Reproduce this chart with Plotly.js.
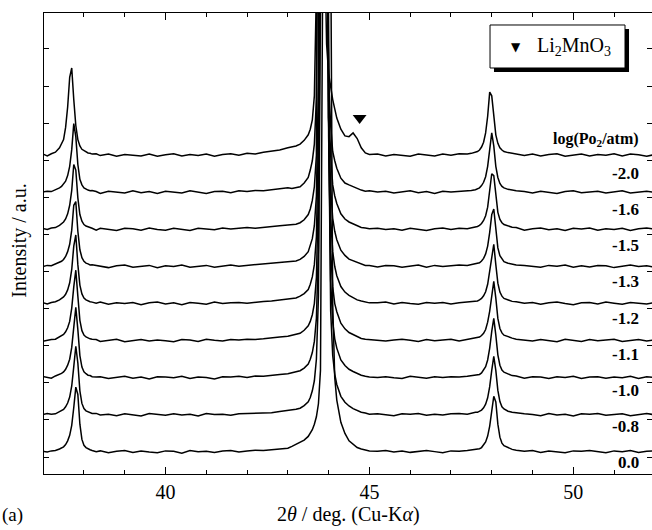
<!DOCTYPE html>
<html>
<head>
<meta charset="utf-8">
<script src="https://cdn.plot.ly/plotly-3.0.1.min.js"></script>
<style>html,body{margin:0;padding:0;background:#fff;}#chart{width:652px;height:530px;}</style>
</head>
<body>
<div id="chart"></div>
<script>
// 2theta grid (deg)
const twoTheta = [
37.0,37.1,37.2,37.3,37.4,
37.45,37.5,37.55,37.6,37.65,37.7,37.75,37.8,37.85,37.9,37.95,38.0,38.05,38.1,38.15,38.2,
38.3,38.4,38.6,38.8,39.0,39.2,39.4,39.6,39.8,40.0,40.2,40.4,40.6,40.8,41.0,41.2,41.4,41.6,41.8,42.0,42.2,42.4,42.6,42.8,43.0,
43.1,43.2,43.3,43.4,43.5,
43.55,43.6,43.65,43.7,43.75,43.8,43.85,43.9,43.95,44.0,44.05,44.1,44.15,44.2,
44.3,44.4,44.5,44.6,44.7,44.8,44.9,45.0,
45.2,45.4,45.6,45.8,46.0,46.2,46.4,46.6,46.8,47.0,47.2,47.4,
47.5,47.6,
47.65,47.7,47.75,47.8,47.85,47.9,47.95,48.0,48.05,48.1,48.15,48.2,48.25,48.3,
48.4,48.5,48.6,
48.8,49.0,49.2,49.4,49.6,49.8,50.0,50.2,50.4,50.6,50.8,51.0,51.2,51.4,51.6,51.8,52.0
];

// labels, log(PO2/atm), bottom to top
const logPO2 = ['0.0','-0.8','-1.0','-1.1','-1.2','-1.3','-1.5','-1.6','-2.0'];

// intensities (a.u., one unit = stacking step), bottom to top
const int00 = [
0.02,0.00,0.03,0.04,0.08,
0.1,0.14,0.2,0.3,0.45,0.72,1.2,1.75,1.55,0.75,0.34,0.18,0.12,0.08,0.06,0.04,
0.01,0.03,-0.02,0.02,0.04,-0.01,0.03,0.00,-0.02,0.03,0.02,-0.03,0.04,0.01,0.02,-0.01,0.03,0.04,0.00,0.03,0.05,0.04,0.06,0.08,0.1,
0.15,0.2,0.25,0.32,0.42,
0.5,0.6,0.75,0.95,1.3,2.2,12,40,70,50,14,4,2.0,1.4,
0.8,0.5,0.3,0.2,0.12,0.08,0.05,0.03,
0.02,0.04,0.00,0.03,-0.01,0.02,0.04,0.01,-0.02,0.03,0.02,0.04,
0.05,0.07,
0.07,0.09,0.12,0.18,0.27,0.43,0.7,1.1,1.5,1.35,0.75,0.4,0.24,0.17,
0.11,0.07,0.05,
0.02,0.04,-0.01,0.03,0.01,-0.02,0.03,0.02,0.04,0.00,-0.02,0.03,0.01,0.04,-0.01,0.02,0.03
];
const int08 = [
0.01,0.04,0.02,0.03,0.09,
0.11,0.15,0.22,0.32,0.48,0.78,1.3,1.85,1.4,0.65,0.31,0.17,0.11,0.08,0.05,0.04,
0.04,0.00,0.02,-0.02,0.03,0.01,-0.03,0.04,0.02,-0.01,0.03,0.00,0.02,-0.03,0.04,0.01,0.02,-0.01,0.03,0.04,0.03,0.06,0.06,0.09,0.11,
0.12,0.15,0.18,0.25,0.35,
0.47,0.65,0.92,1.5,3.2,11,40,65,35,8,2.8,1.6,1.1,0.82,
0.5,0.34,0.24,0.17,0.12,0.07,0.05,0.02,
0.03,0.01,-0.02,0.03,0.02,0.04,-0.01,0.02,0.00,0.03,0.04,0.02,
0.05,0.07,
0.07,0.09,0.13,0.19,0.29,0.46,0.76,1.2,1.58,1.2,0.66,0.36,0.22,0.16,
0.1,0.07,0.05,
0.03,0.01,-0.02,0.04,0.00,0.02,-0.03,0.03,0.02,0.04,-0.01,0.01,0.03,-0.02,0.02,0.04,0.00
];
const int10 = [
0.03,0.01,-0.01,0.05,0.09,
0.12,0.16,0.23,0.34,0.5,0.82,1.38,1.9,1.3,0.6,0.29,0.16,0.11,0.07,0.06,0.03,
0.02,0.03,-0.02,0.01,0.04,-0.01,0.02,-0.03,0.03,0.02,0.00,0.04,-0.02,0.02,0.01,-0.03,0.03,0.02,0.04,0.01,0.05,0.04,0.07,0.09,0.11,
0.13,0.16,0.19,0.26,0.37,
0.5,0.68,0.98,1.6,3.5,13,45,65,30,7,2.6,1.5,1.05,0.8,
0.48,0.33,0.23,0.17,0.11,0.07,0.04,0.02,
0.01,0.03,0.00,-0.02,0.04,0.02,-0.01,0.03,0.01,0.03,0.02,0.04,
0.05,0.06,
0.07,0.09,0.13,0.2,0.3,0.48,0.8,1.25,1.6,1.15,0.62,0.34,0.21,0.15,
0.1,0.06,0.05,
-0.01,0.03,0.02,-0.02,0.03,0.01,0.04,-0.02,0.02,0.03,-0.01,0.02,0.00,0.04,-0.02,0.03,0.01
];
const int11 = [
-0.01,0.02,0.03,0.04,0.1,
0.12,0.17,0.24,0.35,0.52,0.88,1.45,1.9,1.2,0.55,0.27,0.15,0.1,0.07,0.05,0.04,
0.03,-0.02,0.02,0.04,-0.03,0.01,0.03,-0.01,0.02,0.00,-0.03,0.03,0.02,-0.02,0.04,0.01,-0.01,0.03,0.02,0.04,0.03,0.05,0.08,0.1,0.12,
0.14,0.16,0.2,0.28,0.4,
0.52,0.7,1.0,1.7,4,16,52,62,22,5.5,2.4,1.45,1.0,0.78,
0.47,0.32,0.22,0.16,0.11,0.06,0.04,0.03,
0.03,-0.01,0.02,0.04,0.01,-0.02,0.03,0.00,0.02,0.04,-0.01,0.03,
0.05,0.07,
0.07,0.1,0.14,0.2,0.3,0.5,0.8,1.25,1.6,1.15,0.6,0.33,0.21,0.15,
0.1,0.07,0.04,
0.02,-0.01,0.03,0.01,-0.03,0.04,0.02,-0.02,0.03,0.00,0.02,0.04,-0.02,0.01,0.03,-0.01,0.02
];
const int12 = [
0.02,-0.01,0.03,0.05,0.1,
0.13,0.18,0.25,0.37,0.56,0.92,1.55,1.85,1.05,0.5,0.26,0.15,0.1,0.07,0.05,0.04,
0.01,0.04,-0.02,0.02,0.00,0.03,-0.03,0.02,0.04,-0.01,0.02,-0.03,0.03,0.01,-0.02,0.04,0.00,0.02,0.03,0.01,0.04,0.06,0.07,0.09,0.12,
0.13,0.15,0.2,0.27,0.38,
0.52,0.72,1.05,1.8,4.5,18,55,60,20,5,2.3,1.4,1.0,0.75,
0.46,0.31,0.22,0.16,0.1,0.07,0.04,0.02,
0.02,0.04,-0.01,0.03,0.00,-0.02,0.03,0.01,0.03,-0.01,0.02,0.04,
0.04,0.07,
0.07,0.1,0.14,0.21,0.32,0.52,0.85,1.3,1.6,1.05,0.55,0.31,0.2,0.14,
0.09,0.06,0.05,
0.01,0.03,-0.02,0.02,0.04,0.00,-0.03,0.02,0.03,-0.01,0.04,0.01,-0.02,0.03,0.02,-0.01,0.03
];
const int13 = [
0.00,0.03,0.02,0.06,0.1,
0.14,0.19,0.27,0.4,0.6,0.98,1.65,1.75,0.95,0.45,0.24,0.14,0.09,0.07,0.04,0.05,
0.03,0.00,-0.03,0.02,0.04,-0.02,0.01,0.03,-0.03,0.02,0.00,0.04,-0.02,0.01,0.03,-0.02,0.02,0.04,0.01,0.03,0.05,0.05,0.07,0.1,0.13,
0.13,0.15,0.19,0.27,0.4,
0.55,0.75,1.1,1.9,5,25,60,55,15,4,2.1,1.3,0.95,0.72,
0.44,0.3,0.2,0.16,0.11,0.06,0.03,0.03,
-0.01,0.03,0.02,-0.02,0.01,0.04,-0.02,0.03,0.00,0.02,0.04,0.03,
0.05,0.06,
0.08,0.1,0.15,0.22,0.34,0.55,0.92,1.4,1.55,0.95,0.5,0.29,0.19,0.13,
0.09,0.07,0.04,
0.03,0.00,-0.02,0.03,0.01,0.04,-0.02,0.02,-0.01,0.03,0.02,-0.03,0.01,0.04,0.00,0.02,-0.02
];
const int15 = [
0.02,0.00,0.04,0.05,0.11,
0.15,0.2,0.28,0.42,0.65,1.05,1.75,1.6,0.85,0.4,0.22,0.13,0.09,0.06,0.05,0.03,
-0.02,0.03,0.01,-0.03,0.03,0.02,-0.02,0.04,0.00,-0.02,0.03,0.01,-0.03,0.03,0.02,-0.01,0.04,0.01,0.03,0.05,0.03,0.06,0.08,0.1,0.12,
0.12,0.14,0.18,0.26,0.4,
0.55,0.78,1.15,2.0,6,30,65,50,12,3.5,2.0,1.2,0.9,0.7,
0.42,0.28,0.2,0.15,0.1,0.05,0.04,0.02,
0.03,0.00,0.02,-0.02,0.03,0.01,-0.03,0.02,0.04,0.00,0.03,0.02,
0.04,0.07,
0.08,0.11,0.16,0.24,0.37,0.6,1.0,1.5,1.45,0.85,0.46,0.27,0.18,0.13,
0.09,0.06,0.05,
-0.02,0.02,0.04,-0.01,0.02,-0.03,0.03,0.01,0.04,-0.02,0.02,0.00,0.03,-0.03,0.02,0.04,0.01
];
const int16 = [
0.01,0.03,0.02,0.06,0.12,
0.16,0.22,0.3,0.45,0.7,1.15,1.85,1.5,0.75,0.35,0.2,0.12,0.08,0.06,0.04,0.05,
0.02,-0.03,0.03,0.01,-0.02,0.04,-0.01,0.02,-0.03,0.03,0.00,-0.02,0.04,0.01,-0.03,0.02,0.03,-0.01,0.04,0.02,0.05,0.04,0.07,0.09,0.12,
0.1,0.12,0.15,0.25,0.4,
0.6,0.85,1.3,2.5,10,45,65,35,8,3.0,1.8,1.1,0.85,0.65,
0.38,0.25,0.2,0.15,0.1,0.06,0.03,0.04,
0.01,0.03,-0.02,0.02,0.04,-0.01,0.02,-0.03,0.03,0.01,0.02,0.04,
0.05,0.07,
0.09,0.12,0.18,0.27,0.42,0.7,1.15,1.6,1.25,0.7,0.4,0.24,0.16,0.12,
0.08,0.06,0.04,
0.02,-0.02,0.03,0.00,-0.03,0.02,0.04,-0.01,0.01,0.03,-0.02,0.02,0.04,-0.02,0.01,0.03,0.00
];
const int20 = [
0.03,-0.02,0.04,0.08,0.2,
0.3,0.42,0.75,1.3,2.1,2.35,1.5,0.8,0.42,0.25,0.16,0.12,0.08,0.06,0.05,0.03,
0.04,-0.01,0.03,-0.03,0.02,0.00,-0.02,0.03,-0.03,0.01,0.04,-0.02,0.02,-0.01,0.03,-0.03,0.02,0.04,0.00,0.05,0.03,0.08,0.1,0.14,0.2,
0.22,0.25,0.3,0.4,0.55,
0.7,0.95,1.6,4.5,30,60,40,6,3.0,2.2,1.8,1.5,1.25,1.0,
0.7,0.52,0.5,0.6,0.45,0.2,0.06,0.02,
0.03,-0.02,0.02,0.00,-0.03,0.03,0.01,-0.02,0.03,0.00,0.04,0.03,
0.05,0.08,
0.1,0.14,0.22,0.35,0.6,1.05,1.7,1.6,1.0,0.55,0.32,0.2,0.14,0.1,
0.07,0.05,0.04,
-0.01,0.03,-0.02,0.02,0.04,-0.03,0.01,0.03,-0.02,0.02,0.00,0.04,-0.02,0.03,0.01,-0.03,0.02
];

// Li2MnO3 impurity reflection position (deg) on the top pattern
const li2mno3Peak = [44.76];

const patterns = [int00,int08,int10,int11,int12,int13,int15,int16,int20];

const traces = patterns.map((v,i)=>({
  x: twoTheta, y: v.map(a=>a+i), type:'scatter', mode:'lines',
  line:{color:'#000', width:1.5}, hoverinfo:'skip', showlegend:false
}));
traces.push({
  x: li2mno3Peak, y: li2mno3Peak.map(()=>patterns.length-1+1.0),
  type:'scatter', mode:'markers',
  marker:{symbol:'triangle-down', size:12, color:'#000'}, hoverinfo:'skip', showlegend:false
});

const serif = 'Liberation Serif, Times New Roman, serif';
const ann = logPO2.map((t,i)=>({
  x: 51.67, y: -0.296 + 0.977*i, xref:'x', yref:'y', text:'<b>'+t+'</b>',
  showarrow:false, xanchor:'right', yanchor:'middle', font:{family:serif, size:17, color:'#000'}
}));
ann.push({x:51.67, y:8.41, xref:'x', yref:'y', text:'<b>log(Po<sub>2</sub>/atm)</b>', showarrow:false,
  xanchor:'right', yanchor:'middle', font:{family:serif, size:16, color:'#000'}});
ann.push({x:0.5, y:-0.088, xref:'paper', yref:'paper', text:'2<i>θ</i> / deg. (Cu-K<i>α</i>)', showarrow:false,
  xanchor:'center', yanchor:'middle', font:{family:serif, size:20, color:'#000'}});
ann.push({x:-0.0395, y:0.506, xref:'paper', yref:'paper', text:'Intensity / a.u.', showarrow:false, textangle:-90,
  xanchor:'center', yanchor:'middle', font:{family:serif, size:20, color:'#000'}});
ann.push({x:-0.0526, y:-0.089, xref:'paper', yref:'paper', text:'(a)', showarrow:false,
  xanchor:'center', yanchor:'middle', font:{family:serif, size:19, color:'#000'}});
ann.push({x:0.7763, y:0.9262, xref:'paper', yref:'paper', text:'▼', showarrow:false,
  xanchor:'center', yanchor:'middle', font:{family:'DejaVu Sans', size:12, color:'#000'}});
ann.push({x:0.8076, y:0.928, xref:'paper', yref:'paper', text:'Li<sub>2</sub>MnO<sub>3</sub>', showarrow:false,
  xanchor:'left', yanchor:'middle', font:{family:serif, size:20, color:'#000'}});

const layout = {
  width:652, height:530,
  margin:{l:44, r:0, t:13, b:56},
  paper_bgcolor:'#fff', plot_bgcolor:'#fff',
  showlegend:false, hovermode:false,
  xaxis:{range:[37.02,51.93], showgrid:false, zeroline:false, showline:true, linecolor:'#000', linewidth:1,
    mirror:'ticks', ticks:'inside', ticklen:7, tickcolor:'#000', tickwidth:1,
    tickvals:[40,45,50], ticktext:['40','45','50'],
    tickfont:{family:serif, size:20, color:'#000'},
    minor:{dtick:1, tick0:37, ticks:'inside', ticklen:4, tickcolor:'#000', showgrid:false}},
  yaxis:{range:[-0.593,11.833], showgrid:false, zeroline:false, showline:true, linecolor:'#000', linewidth:1,
    mirror:'ticks', ticks:'inside', ticklen:5, tickcolor:'#000', tickwidth:1,
    tickvals:Array.from({length:12},(_,k)=>k-0.135), showticklabels:false},
  shapes:[
    {type:'rect', xref:'paper', yref:'paper', x0:0.7401, x1:0.9622, y0:0.8720, y1:0.9653,
      fillcolor:'#000', line:{width:0}, layer:'below'},
    {type:'rect', xref:'paper', yref:'paper', x0:0.7336, x1:0.9556, y0:0.8807, y1:0.974,
      fillcolor:'#fff', line:{color:'#000', width:1}, layer:'below'}
  ],
  annotations: ann
};

Plotly.newPlot('chart', traces, layout, {displayModeBar:false, staticPlot:true});
</script>
</body>
</html>
